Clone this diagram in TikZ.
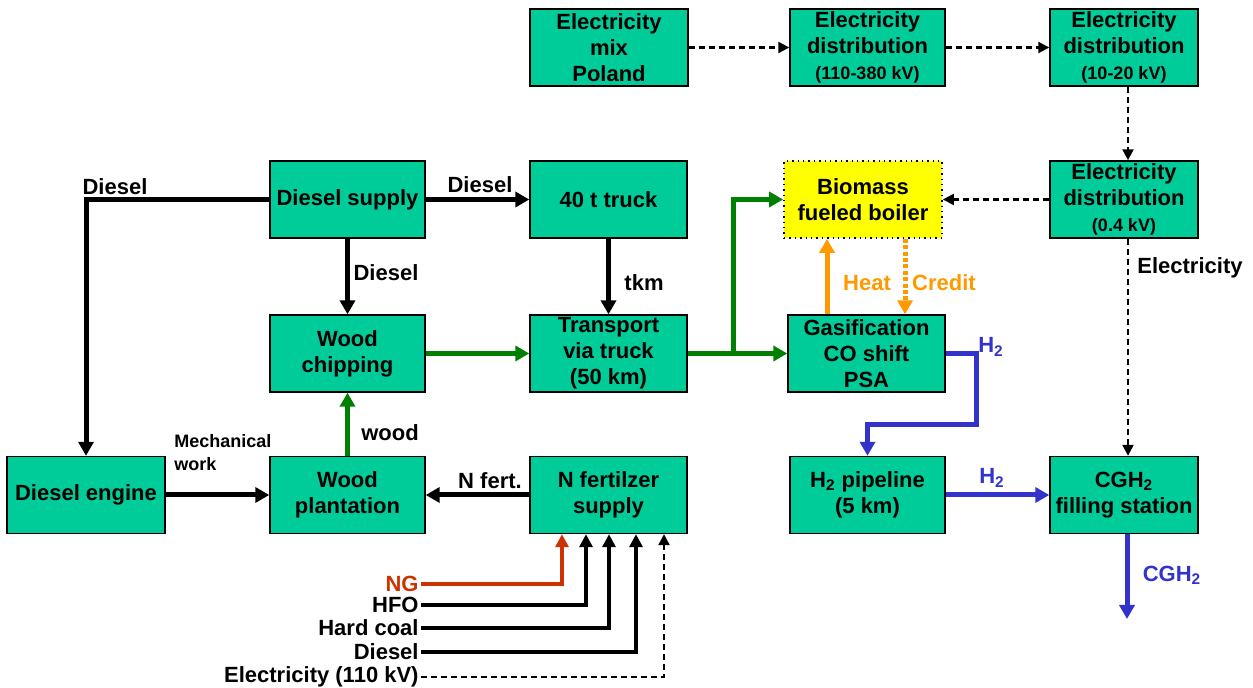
\documentclass[tikz,border=0pt]{standalone}
\usepackage{fontspec}
\setmainfont{Liberation Sans}
\usetikzlibrary{arrows.meta}
\definecolor{boxgreen}{RGB}{0,204,153}
\definecolor{boxyellow}{RGB}{255,255,0}
\definecolor{flowgreen}{RGB}{0,128,0}
\definecolor{floworange}{RGB}{255,153,0}
\definecolor{flowblue}{RGB}{51,51,204}
\definecolor{flowred}{RGB}{204,51,0}
\tikzset{
  box/.style={draw=black, line width=0.7pt, fill=boxgreen, minimum width=78pt, minimum height=38.5pt,
    inner sep=1pt, align=center, font=\bfseries\fontsize{11}{13}\selectfont},
  lbl/.style={inner sep=1pt, font=\bfseries\fontsize{11}{13}\selectfont},
  smalllbl/.style={inner sep=1pt, align=left, font=\bfseries\fontsize{9}{11.5}\selectfont},
  flow/.style={line width=2.5pt, -{Triangle[length=7pt,width=7.5pt]}},
  eflow/.style={line width=1.1pt, dash pattern=on 3pt off 2pt, -{Triangle[length=5.5pt,width=5.5pt]}},
  inflow/.style={line width=2pt, -{Triangle[length=6.5pt,width=6.5pt]}},
}
\newcommand{\sm}[1]{{\fontsize{9}{10}\selectfont #1}}
\begin{document}
\begin{tikzpicture}[x=0.5pt,y=-0.5pt]
\useasboundingbox (0,0) rectangle (1253,688);
% boxes
\node[box, minimum width=79pt] (mix) at (609,47.5) {Electricity\\mix\\Poland};
\node[box, minimum width=77.5pt] (hv) at (867.5,47.5) {Electricity\\distribution\\\sm{(110-380 kV)}};
\node[box, minimum width=74pt] (mv) at (1124,47.5) {Electricity\\distribution\\\sm{(10-20 kV)}};
\node[box, minimum width=77.5pt] (dsup) at (347.5,199.5) {Diesel supply};
\node[box, minimum width=78.5pt] (truck) at (608.5,199.5) {40 t truck};
\node[box, minimum width=79pt, fill=boxyellow, dotted, line width=0.9pt] (boiler) at (863,199.5) {Biomass\\fueled boiler};
\node[box, minimum width=74pt] (lv) at (1124,199.5) {Electricity\\distribution\\\sm{(0.4 kV)}};
\node[box, minimum width=77.5pt] (chip) at (347.5,353.5) {Wood\\chipping};
\node[box, minimum width=78.5pt] (trans) at (608.5,353.5) {Transport\\via truck\\(50 km)};
\node[box, minimum width=78.5pt] (gas) at (866.5,353.5) {Gasification\\CO shift\\PSA};
\node[box, minimum width=79pt] (engine) at (86,495) {Diesel engine};
\node[box, minimum width=77.5pt] (plant) at (347.5,495) {Wood\\plantation};
\node[box, minimum width=78.5pt] (nfert) at (608.5,495) {N fertilzer\\supply};
\node[box, minimum width=77.5pt] (pipe) at (867.5,495) {H\textsubscript{2} pipeline\\(5 km)};
\node[box, minimum width=74pt] (station) at (1124,495) {CGH\textsubscript{2}\\filling station};
% electricity chain
\draw[eflow] (mix) -- (hv);
\draw[eflow] (hv) -- (mv);
\draw[eflow] (mv.south -| 1128,0) -- (lv.north -| 1128,0);
\draw[eflow] (lv.west) -- (boiler.east);
\draw[eflow] (lv.south -| 1128,0) -- (station.north -| 1128,0);
\node[lbl, anchor=west] (elbl) at (1135,268) {Electricity};
% diesel
\draw[flow] (dsup.east) -- (truck.west);
\node[lbl] (d1) at (480,185) {Diesel};
\draw[flow] (dsup.west) -| (engine.north);
\node[lbl] (d2) at (115,187) {Diesel};
\draw[flow] (dsup.south) -- (chip.north);
\node[lbl] (d3) at (386,273) {Diesel};
\draw[flow] (truck.south) -- (trans.north);
\node[lbl] (tkm) at (644,283) {tkm};
% biomass flow
\draw[flow, flowgreen] (chip.east) -- (trans.west);
\draw[flow, flowgreen] (trans.east) -- (gas.west);
\coordinate (branch) at (733,353.5);
\draw[flow, flowgreen] (branch) |- (boiler.west);
\draw[flow, flowgreen] (plant.north) -- (chip.south);
\node[lbl] (woodl) at (390,433) {wood};
% heat / credit
\draw[flow, floworange] ([xshift=-19.75pt]gas.north) -- ([xshift=-18pt]boiler.south);
\draw[line width=2.5pt, floworange, dash pattern=on 2pt off 1.2pt, -{Triangle[length=7pt,width=7.5pt]}] ([xshift=21pt]boiler.south) -- ([xshift=19.25pt]gas.north);
\node[lbl, text=floworange] (heat) at (867,283) {Heat};
\node[lbl, text=floworange] (credit) at (944,283) {Credit};
% hydrogen
\coordinate (hc1) at (976,425);
\draw[flow, flowblue] (gas.east) -| (hc1) -| (pipe.north);
\node[lbl, text=flowblue] (h2a) at (991,347) {H\textsubscript{2}};
\draw[flow, flowblue] (pipe.east) -- (station.west);
\node[lbl, text=flowblue] (h2b) at (992,478) {H\textsubscript{2}};
\coordinate (out) at (1127,619);
\draw[flow, flowblue] (station.south -| out) -- (out);
\node[lbl, text=flowblue] (cgh) at (1172,575) {CGH\textsubscript{2}};
% lower left
\draw[flow] (engine.east) -- (plant.west);
\node[smalllbl, anchor=north west] (mech) at (172,432) {Mechanical\\work};
\draw[flow] (nfert.west) -- (plant.east);
\node[lbl] (nf) at (490,481) {N fert.};
% inputs
\node[lbl, anchor=east, text=flowred] (ng) at (421,584) {NG};
\node[lbl, anchor=east] (hfo) at (421,605) {HFO};
\node[lbl, anchor=east] (coal) at (421,628) {Hard coal};
\node[lbl, anchor=east] (dsl) at (421,652) {Diesel};
\node[lbl, anchor=east] (el) at (421,677) {Electricity (110 kV)};
\draw[inflow, flowred] (ng.east) -| ([xshift=-23.25pt]nfert.south);
\draw[inflow] (hfo.east) -| ([xshift=-11.25pt]nfert.south);
\draw[inflow] (coal.east) -| ([xshift=0.25pt]nfert.south);
\draw[inflow] (dsl.east) -| ([xshift=13.75pt]nfert.south);
\draw[eflow] (el.east) -| ([xshift=27.75pt]nfert.south);
\end{tikzpicture}
\end{document}
